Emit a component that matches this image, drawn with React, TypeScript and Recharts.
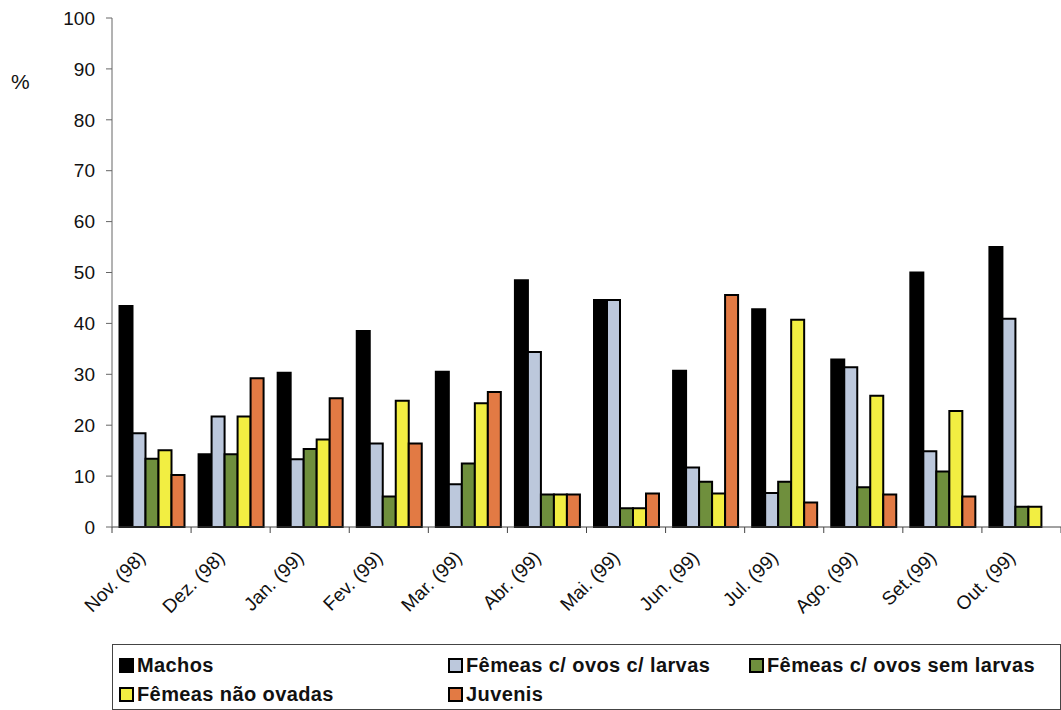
import React from 'react';
import { BarChart, Bar, XAxis, YAxis, Legend } from 'recharts';

const months = ['Nov. (98)', 'Dez. (98)', 'Jan. (99)', 'Fev. (99)', 'Mar. (99)', 'Abr. (99)', 'Mai. (99)', 'Jun. (99)', 'Jul. (99)', 'Ago. (99)', 'Set.(99)', 'Out. (99)'];
const machos = [43.4, 14.3, 30.3, 38.5, 30.5, 48.5, 44.6, 30.7, 42.8, 32.9, 50.0, 55.0];
const comLarvas = [18.4, 21.7, 13.3, 16.4, 8.4, 34.4, 44.6, 11.7, 6.7, 31.4, 14.9, 40.9];
const semLarvas = [13.4, 14.3, 15.3, 6.0, 12.5, 6.4, 3.7, 8.9, 8.9, 7.8, 10.9, 4.0];
const naoOvadas = [15.1, 21.7, 17.2, 24.8, 24.3, 6.4, 3.7, 6.6, 40.7, 25.8, 22.8, 4.0];
const juvenis = [10.2, 29.2, 25.3, 16.4, 26.5, 6.4, 6.6, 45.6, 4.8, 6.4, 6.0, 0];
const yTicks = [0, 10, 20, 30, 40, 50, 60, 70, 80, 90, 100];

const series = [
  { key: 'machos', name: 'Machos', color: '#000000' },
  { key: 'comLarvas', name: 'Fêmeas c/ ovos c/ larvas', color: '#bcc8dc' },
  { key: 'semLarvas', name: 'Fêmeas c/ ovos sem larvas', color: '#6f8f3d' },
  { key: 'naoOvadas', name: 'Fêmeas não ovadas', color: '#f2ee42' },
  { key: 'juvenis', name: 'Juvenis', color: '#e27a44' },
];

const data = months.map((m, i) => ({
  month: m,
  machos: machos[i],
  comLarvas: comLarvas[i],
  semLarvas: semLarvas[i],
  naoOvadas: naoOvadas[i],
  juvenis: juvenis[i],
}));

const FONT = '"Liberation Sans", Arial, sans-serif';
const W = 1061;
const H = 710;
const LEFT = 112;
const catW = (W - LEFT) / months.length;

const XTick = (props: any) => {
  const { x, y, payload, index } = props;
  const tx = x - 5;
  const ty = y + 24;
  return (
    <g>
      <line x1={x - catW / 2} y1={y - 8} x2={x - catW / 2} y2={y - 2} stroke="#444" strokeWidth={1} />
      {index === months.length - 1 && (
        <line x1={x + catW / 2} y1={y - 8} x2={x + catW / 2} y2={y - 2} stroke="#444" strokeWidth={1} />
      )}
      <text
        x={tx}
        y={ty}
        textAnchor="end"
        transform={`rotate(-45 ${tx} ${ty})`}
        fontFamily={FONT}
        fontSize={19}
        fill="#111"
      >
        {payload.value}
      </text>
    </g>
  );
};

const legendPos = [
  { left: 6, top: 20 },
  { left: 335, top: 20 },
  { left: 636, top: 20 },
  { left: 6, top: 49 },
  { left: 335, top: 49 },
];

const LegendBox = () => (
  <div
    style={{
      position: 'relative',
      width: W - LEFT,
      height: 66,
      boxSizing: 'border-box',
      border: '1px solid #444',
      fontFamily: FONT,
      fontWeight: 'bold',
      fontSize: 20,
      letterSpacing: 0.4,
      color: '#111',
    }}
  >
    {series.map((s, i) => (
      <div
        key={s.key}
        style={{
          position: 'absolute',
          left: legendPos[i].left,
          top: legendPos[i].top - 12,
          display: 'flex',
          alignItems: 'center',
          whiteSpace: 'nowrap',
          lineHeight: '24px',
        }}
      >
        <span
          style={{
            display: 'inline-block',
            width: 11,
            height: 11,
            background: s.color,
            border: '2px solid #000',
            marginRight: 3,
          }}
        />
        {s.name}
      </div>
    ))}
  </div>
);

export default function App() {
  return (
    <div style={{ position: 'absolute', left: 0, top: 0, background: '#fff' }}>
      <BarChart
        width={W}
        height={H}
        data={data}
        margin={{ top: 18, right: 0, bottom: 0, left: 0 }}
        barCategoryGap={7.5}
        barGap={0}
      >
        <XAxis
          dataKey="month"
          interval={0}
          height={117}
          tickLine={false}
          tickSize={8}
          tickMargin={0}
          tick={<XTick />}
          axisLine={{ stroke: '#444' }}
        />
        <YAxis
          domain={[0, 100]}
          ticks={yTicks}
          width={LEFT}
          tickSize={6}
          tickMargin={11}
          axisLine={{ stroke: '#666' }}
          tickLine={{ stroke: '#666' }}
          tick={{ fontFamily: FONT, fontSize: 19, fill: '#111' }}
          label={{
            content: () => (
              <text x={11} y={89} fontFamily={FONT} fontSize={21} fill="#111">
                %
              </text>
            ),
          }}
        />
        <Legend
          verticalAlign="bottom"
          align="left"
          wrapperStyle={{ left: LEFT, width: W - LEFT }}
          content={<LegendBox />}
        />
        {series.map((s) => (
          <Bar
            key={s.key}
            dataKey={s.key}
            name={s.name}
            fill={s.color}
            stroke="#000"
            strokeWidth={2}
            isAnimationActive={false}
          />
        ))}
      </BarChart>
    </div>
  );
}
